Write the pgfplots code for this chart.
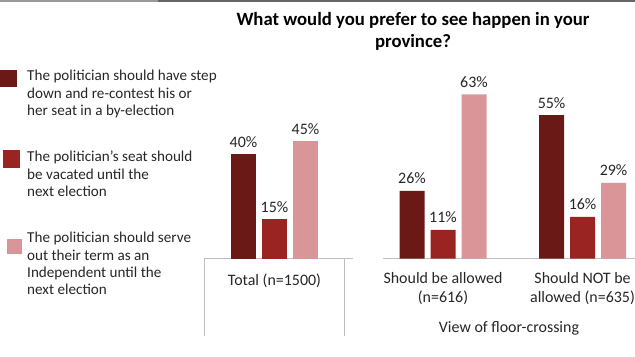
\documentclass[border=0pt]{standalone}
\usepackage{pgfplots}
\pgfplotsset{compat=1.18}
\usepackage{fontspec}
\setmainfont{Carlito}
\definecolor{dkred}{HTML}{6B1916}
\definecolor{mdred}{HTML}{9A2422}
\definecolor{ltred}{HTML}{DA9598}
\definecolor{txt}{HTML}{262626}
\pgfplotsset{panel/.style={
  scale only axis, ybar=6bp, bar width=25bp, ymin=0, ymax=68, height=177.14bp,
  axis y line=none, axis x line*=bottom, axis line style={-, draw=black!25, line width=0.8bp},
  xtick style={draw=none}, ytick=\empty,
  /pgf/number format/assume math mode=true,
  nodes near coords={\pgfmathprintnumber{\pgfplotspointmeta}\%},
  every node near coord/.append style={font=\fontsize{16}{19}\selectfont, text=txt, anchor=south, yshift=3.5bp},
  xticklabel style={font=\fontsize{16}{19}\selectfont, text=txt, align=center},
  clip=false, anchor=south west,
}}
\begin{document}
\begin{tikzpicture}
\path[use as bounding box] (0,0) rectangle (635bp,-357bp);
\draw[black!40, line width=1.5bp] (0,-0.75bp) -- (158bp,-0.75bp);
\draw[black!60, line width=1.5bp] (158bp,-0.75bp) -- (635bp,-0.75bp);
\node[font=\bfseries\fontsize{18.8}{22}\selectfont, align=center, text=black] at (413bp,-31.5bp) {What would you prefer to see happen in your\\province?};
% left panel
\begin{axis}[panel, at={(204bp,-258.5bp)}, width=149bp,
  xmin=-0.473, xmax=0.527, xtick={0}, xticklabels={Total (n=1500)},
  xticklabel style={yshift=-8bp},
  legend cell align=left,
  legend style={at={(-1.369,1.0754)}, anchor=north west, draw=none, fill=none, inner sep=0pt,
    row sep=30bp, cells={align=left}, nodes={font=\fontsize{15.2}{17.5}\selectfont, text=txt, inner xsep=5bp}},
]
\addplot[fill=dkred, draw=none, legend image code/.code={\fill[dkred] (0bp,6.5bp) rectangle (17bp,23.5bp);}] coordinates {(0,40)};
\addlegendentry{The politician should have step\\down and re-contest his or\\her seat in a by-election}
\addplot[fill=mdred, draw=none, legend image code/.code={\fill[mdred] (3bp,7bp) rectangle (20bp,24.5bp);}] coordinates {(0,15)};
\addlegendentry{The politician’s seat should\\be vacated until the\\next election}
\addplot[fill=ltred, draw=none, legend image code/.code={\fill[ltred] (7bp,10.25bp) rectangle (22bp,25.25bp);}] coordinates {(0,45)};
\addlegendentry{The politician should serve\\out their term as an\\Independent until the\\next election}
\draw[black!25, line width=0.8bp] (rel axis cs:0,0) -- (rel axis cs:0,-0.44);
\draw[black!25, line width=0.8bp] (rel axis cs:0.9396,0) -- (rel axis cs:0.9396,-0.44);
\end{axis}
% right panel
\begin{axis}[panel, at={(383bp,-258.5bp)}, width=252bp,
  xmin=-0.430, xmax=1.376, xtick={0,1},
  xticklabels={{Should be allowed\\(n=616)},{Should NOT be\\allowed (n=635)}},
  xticklabel style={yshift=-6bp},
  xlabel={View of floor-crossing},
  xlabel style={font=\fontsize{16}{19}\selectfont, text=txt, yshift=-10bp},
]
\addplot[fill=dkred, draw=none] coordinates {(0,26) (1,55)};
\addplot[fill=mdred, draw=none] coordinates {(0,11) (1,16)};
\addplot[fill=ltred, draw=none] coordinates {(0,63) (1,29)};
\end{axis}
\end{tikzpicture}
\end{document}
